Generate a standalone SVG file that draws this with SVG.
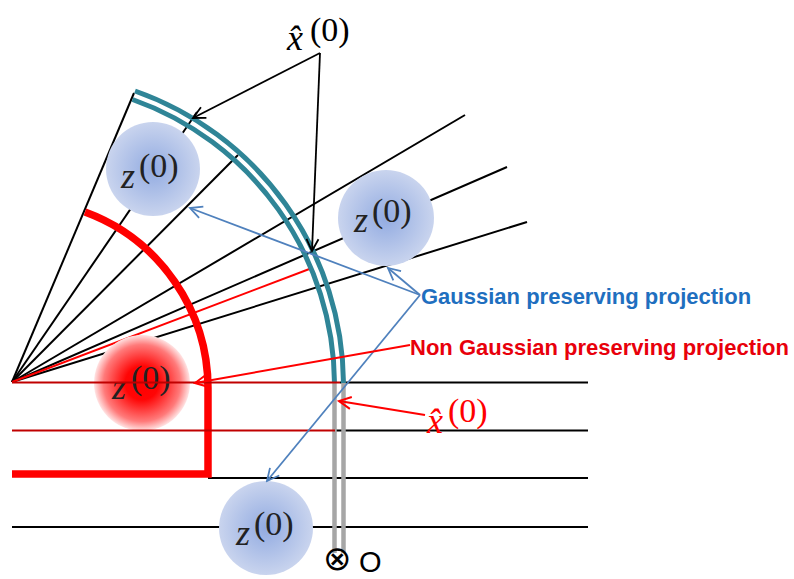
<svg xmlns="http://www.w3.org/2000/svg" width="794" height="579" viewBox="0 0 794 579">
<style>
.ray{stroke:#000;stroke-width:2;fill:none}
.hl{stroke:#000;stroke-width:1.8;fill:none}
.rl{stroke:#c00000;stroke-width:1.8;fill:none}
.teal{stroke:#2f8597;stroke-width:5;fill:none}
.gray{stroke:#a6a6a6;stroke-width:4.5;fill:none}
.ba{stroke:#4f81bd;stroke-width:1.8;fill:none;marker-end:url(#mb)}
.ka{stroke:#000;stroke-width:1.8;fill:none;marker-end:url(#mk)}
.ra{stroke:#f00;stroke-width:2;fill:none;marker-end:url(#mr)}
.mz{font-family:"Liberation Serif",serif;font-style:italic;font-size:36px;fill:#222}
.m0{font-family:"Liberation Serif",serif;font-size:34px;fill:#222}
.lab{font-family:"Liberation Sans",Arial,sans-serif;font-weight:bold;font-size:22px}
</style>
<defs>
<radialGradient id="gb" cx="0.5" cy="0.5" r="0.5">
<stop offset="0" stop-color="#92abe1"/>
<stop offset="1" stop-color="#c9d4ee"/>
</radialGradient>
<radialGradient id="gr" cx="0.5" cy="0.5" r="0.5">
<stop offset="0" stop-color="#ff0000"/>
<stop offset="0.35" stop-color="#ff0505"/>
<stop offset="0.8" stop-color="#ff7a7a"/>
<stop offset="1" stop-color="#ffe4e4"/>
</radialGradient>
<marker id="mb" markerUnits="userSpaceOnUse" viewBox="-14 -8 16 16" markerWidth="16" markerHeight="16" refX="0" refY="0" orient="auto"><path d="M-12,-6 L0,0 L-12,6" fill="none" stroke="#4f81bd" stroke-width="1.8"/></marker>
<marker id="mk" markerUnits="userSpaceOnUse" viewBox="-14 -8 16 16" markerWidth="16" markerHeight="16" refX="0" refY="0" orient="auto"><path d="M-12,-6 L0,0 L-12,6" fill="none" stroke="#000" stroke-width="1.8"/></marker>
<marker id="mr" markerUnits="userSpaceOnUse" viewBox="-14 -8 16 16" markerWidth="16" markerHeight="16" refX="0" refY="0" orient="auto"><path d="M-12,-6 L0,0 L-12,6" fill="none" stroke="#f00" stroke-width="2"/></marker>
</defs>
<rect width="794" height="579" fill="#fff"/>
<g id="rays">
<path class="ray" d="M12,382 L134,93"/>
<path class="ray" d="M12,382 L197,112"/>
<path class="ray" d="M12,382 L238,155"/>
<path class="ray" d="M12,382 L465,115"/>
<path class="ray" d="M12,382 L507,167"/>
<path class="ray" d="M12,382 L527,222"/>
<path d="M12,382 L312,268" stroke="#f00" stroke-width="2" fill="none"/>
<path class="hl" d="M340,382.5 H588"/>
<path class="hl" d="M335,430.5 H588"/>
<path class="hl" d="M208,478 H588"/>
<path class="hl" d="M12,527 H588"/>
</g>
<g id="sphere-gaussian">
<path class="teal" d="M135,91 A312,312 0 0 1 343.5,383"/>
<path class="teal" d="M132.5,99.5 A303,303 0 0 1 334.5,383"/>
<path class="gray" d="M334.5,383 V553"/>
<path class="gray" d="M343.5,383 V553"/>
</g>
<g id="region-nongaussian">
<path d="M85,212 A188,188 0 0 1 208,390 V474 H12" stroke="#f00" stroke-width="7.5" fill="none"/>
</g>
<g id="z1">
<circle cx="153" cy="169" r="47" fill="url(#gb)"/>
<text class="mz" x="121" y="188">z</text><text class="m0" x="139" y="177">(0)</text>
</g>
<g id="z2">
<circle cx="386" cy="218" r="48" fill="url(#gb)"/>
<text class="mz" x="354" y="232">z</text><text class="m0" x="372" y="222">(0)</text>
</g>
<g id="z3">
<circle cx="266" cy="528" r="47" fill="url(#gb)"/>
<text class="mz" x="236" y="545">z</text><text class="m0" x="254" y="535">(0)</text>
</g>
<g id="zred">
<circle cx="142" cy="383" r="48" fill="url(#gr)"/>
<text class="mz" x="112" y="399">z</text><text class="m0" x="131" y="389">(0)</text>
</g>
<g id="red-lines">
<path class="rl" d="M12,382.5 H340"/>
<path class="rl" d="M12,430.5 H335"/>
</g>
<g id="connectors">
<path class="ba" d="M420,295 L190,208"/>
<path class="ba" d="M420,295 L388,268"/>
<path class="ba" d="M420,295 L267,481"/>
<path class="ka" d="M320,53 L193,118"/>
<path class="ka" d="M320,53 L312,251"/>
<path class="ra" d="M410,345 L195,383"/>
<path class="ra" d="M425,415 L339,401"/>
</g>
<g id="label-xhat-top">
<text class="mz" x="287" y="50" style="fill:#000">x̂</text><text class="m0" x="310" y="41" style="fill:#000">(0)</text>
</g>
<g id="label-xhat-red">
<text class="mz" x="427" y="433" style="fill:#f00">x̂</text><text class="m0" x="448" y="422" style="fill:#f00">(0)</text>
</g>
<g id="label-gauss">
<text class="lab" x="421" y="304" fill="#1f6fbf">Gaussian preserving projection</text>
</g>
<g id="label-nongauss">
<text class="lab" x="410" y="355" fill="#e8000b">Non Gaussian preserving projection</text>
</g>
<g id="origin">
<text x="323" y="570" font-family="DejaVu Sans,sans-serif" font-size="34">⊗</text>
<text x="359" y="572" font-family="Liberation Sans,Arial,sans-serif" font-size="29">O</text>
</g>
</svg>
